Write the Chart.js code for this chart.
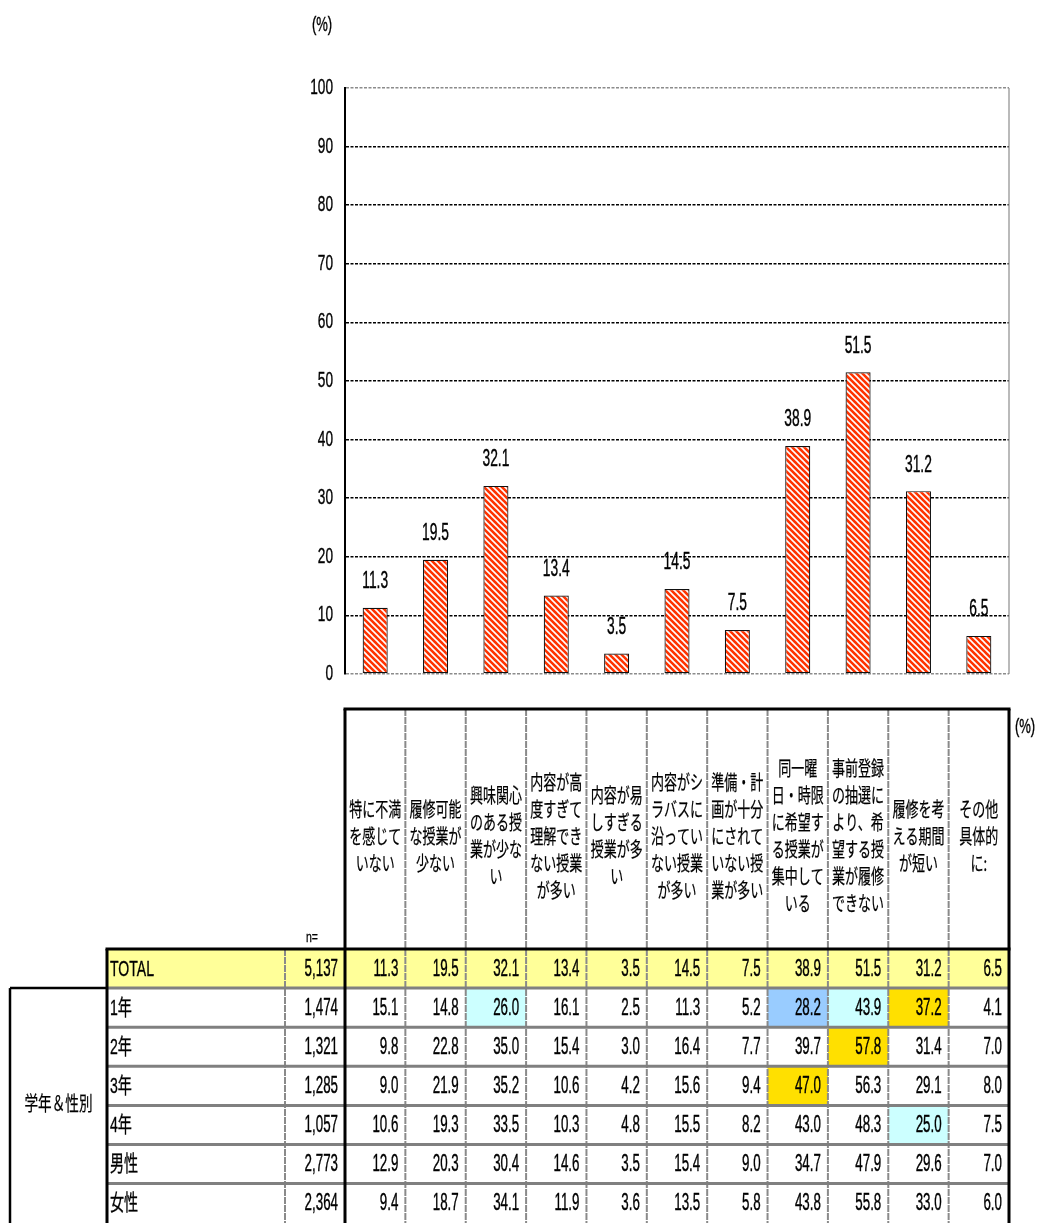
<!DOCTYPE html>
<html>
<head>
<meta charset="utf-8">
<script src="https://cdn.jsdelivr.net/npm/chart.js@4.4.1/dist/chart.umd.min.js"></script>
<style>
html, body { margin: 0; padding: 0; background: #fff; }
canvas { display: block; }
</style>
</head>
<body>
<canvas id="c" width="1037" height="1223"></canvas>
<script>
// header text of each column, one entry per line
var categories = [
    ['特に不満', 'を感じて', 'いない'],
    ['履修可能', 'な授業が', '少ない'],
    ['興味関心', 'のある授', '業が少な', 'い'],
    ['内容が高', '度すぎて', '理解でき', 'ない授業', 'が多い'],
    ['内容が易', 'しすぎる', '授業が多', 'い'],
    ['内容がシ', 'ラバスに', '沿ってい', 'ない授業', 'が多い'],
    ['準備・計', '画が十分', 'にされて', 'いない授', '業が多い'],
    ['同一曜', '日・時限', 'に希望す', 'る授業が', '集中して', 'いる'],
    ['事前登録', 'の抽選に', 'より、希', '望する授', '業が履修', 'できない'],
    ['履修を考', 'える期間', 'が短い'],
    ['その他', '具体的', 'に:']
];
var totalValues = [11.3, 19.5, 32.1, 13.4, 3.5, 14.5, 7.5, 38.9, 51.5, 31.2, 6.5];
var totalN = '5,137';

var rowLabels = ['1年', '2年', '3年', '4年', '男性', '女性'];
var rowN = ['1,474', '1,321', '1,285', '1,057', '2,773', '2,364'];
var year1 = [15.1, 14.8, 26.0, 16.1, 2.5, 11.3, 5.2, 28.2, 43.9, 37.2, 4.1];
var year2 = [9.8, 22.8, 35.0, 15.4, 3.0, 16.4, 7.7, 39.7, 57.8, 31.4, 7.0];
var year3 = [9.0, 21.9, 35.2, 10.6, 4.2, 15.6, 9.4, 47.0, 56.3, 29.1, 8.0];
var year4 = [10.6, 19.3, 33.5, 10.3, 4.8, 15.5, 8.2, 43.0, 48.3, 25.0, 7.5];
var male = [12.9, 20.3, 30.4, 14.6, 3.5, 15.4, 9.0, 34.7, 47.9, 29.6, 7.0];
var female = [9.4, 18.7, 34.1, 11.9, 3.6, 13.5, 5.8, 43.8, 55.8, 33.0, 6.0];
var rowValues = [year1, year2, year3, year4, male, female];

var groupLabel = '学年＆性別';
var yMax = 100;
var yStep = 10;

var NUM = "'Liberation Sans', 'Noto Sans CJK JP', Arial, sans-serif";
var JP = "'Noto Sans CJK JP', sans-serif";

// narrow text: scale horizontally around the anchor
function put(ctx, s, x, y, align, size, fam, sx, heavy) {
    ctx.save();
    ctx.font = size + 'px ' + fam;
    ctx.fillStyle = '#000';
    ctx.strokeStyle = '#000';
    ctx.textBaseline = 'middle';
    ctx.textAlign = align;
    ctx.translate(x, y);
    ctx.scale(sx, 1);
    ctx.fillText(s, 0, 0);
    if (heavy) {
        ctx.lineWidth = heavy;
        ctx.strokeText(s, 0, 0);
    }
    ctx.restore();
}

function line(ctx, x1, y1, x2, y2, color, w, dash) {
    ctx.save();
    ctx.strokeStyle = color;
    ctx.lineWidth = w;
    ctx.setLineDash(dash || []);
    ctx.beginPath();
    ctx.moveTo(x1, y1);
    ctx.lineTo(x2, y2);
    ctx.stroke();
    ctx.restore();
}

function cellColor(v, t) {
    var d = v - t;
    if (d <= -10) return '#99ccff';
    if (d <= -5) return '#ccffff';
    if (d >= 5) return '#ffe000';
    return null;
}

// red / white diagonal hatch
var tile = document.createElement('canvas');
tile.width = 6;
tile.height = 6;
var tctx = tile.getContext('2d');
tctx.fillStyle = '#ff3300';
tctx.fillRect(0, 0, 6, 6);
tctx.strokeStyle = '#ffffff';
tctx.lineWidth = 1.6;
for (var k = -1; k <= 1; k++) {
    tctx.beginPath();
    tctx.moveTo(k * 6 - 1, -1);
    tctx.lineTo(k * 6 + 7, 7);
    tctx.stroke();
}
var stripe = tctx.createPattern(tile, 'repeat');

var axisText = {
    id: 'axisText',
    afterDraw: function (chart) {
        var ctx = chart.ctx;
        var y = chart.scales.y;
        var a = chart.chartArea;
        y.ticks.forEach(function (t) {
            put(ctx, String(t.value), a.left - 12, y.getPixelForValue(t.value), 'right', 22, NUM, 0.62, 0.4);
        });
        put(ctx, '(%)', 322, 25, 'center', 21, NUM, 0.62, 0.4);
        // plot area border on the right
        line(ctx, a.right, a.top, a.right, a.bottom, '#8c8c8c', 1.2);
    }
};

var barLabels = {
    id: 'barLabels',
    afterDatasetsDraw: function (chart) {
        var ctx = chart.ctx;
        var meta = chart.getDatasetMeta(0);
        meta.data.forEach(function (bar, i) {
            put(ctx, totalValues[i].toFixed(1), bar.x, bar.y - 26, 'center', 23, NUM, 0.6, 0.4);
        });
    }
};

var table = {
    id: 'table',
    afterDraw: function (chart) {
        var ctx = chart.ctx;
        var xs = chart.scales.x;
        var a = chart.chartArea;
        var cw = xs.getPixelForValue(1) - xs.getPixelForValue(0);
        var colL = function (i) { return xs.getPixelForValue(i) - cw / 2; };
        var headTop = 709, headBot = 949, rh = 39.1;
        var labL = 107, nL = 285, grpL = 10;
        var rows = [totalValues].concat(rowValues);
        var bottom = chart.height;

        // fills
        ctx.fillStyle = '#ffff99';
        ctx.fillRect(labL, headBot, a.right - labL, rh);
        rowValues.forEach(function (vals, r) {
            var top = headBot + rh * (r + 1);
            vals.forEach(function (v, i) {
                var c = cellColor(v, totalValues[i]);
                if (c) {
                    ctx.fillStyle = c;
                    ctx.fillRect(colL(i), top, cw, rh);
                }
            });
        });

        // header column separators
        for (var i = 1; i < categories.length; i++) {
            line(ctx, colL(i), headTop, colL(i), headBot, '#8a8a8a', 2, [7, 1]);
        }
        // body column separators
        for (i = 1; i < categories.length; i++) {
            line(ctx, colL(i), headBot, colL(i), bottom, '#8a8a8a', 2, [7, 1]);
        }
        line(ctx, nL, headBot, nL, bottom, '#8a8a8a', 2, [7, 1]);
        // row separators
        for (var r = 1; r < rows.length; r++) {
            line(ctx, labL, headBot + rh * r, a.right, headBot + rh * r, '#808080', 3);
        }
        // heavy borders
        line(ctx, a.left - 1.5, headTop, a.right + 1.5, headTop, '#000', 3);
        line(ctx, a.left, headTop, a.left, bottom, '#000', 3);
        line(ctx, a.right, headTop, a.right, bottom, '#000', 3);
        line(ctx, labL - 1.5, headBot, a.right + 1.5, headBot, '#000', 3);
        line(ctx, labL, headBot, labL, bottom, '#000', 3);
        line(ctx, grpL, headBot + rh, labL, headBot + rh, '#000', 2.5);
        line(ctx, grpL, headBot + rh, grpL, bottom, '#000', 2.5);

        // header text
        categories.forEach(function (lines, i) {
            var cx = colL(i) + cw / 2;
            var lh = 27, cy = 836;
            var y0 = cy - (lines.length - 1) * lh / 2;
            lines.forEach(function (s, k) {
                put(ctx, s, cx, y0 + k * lh, 'center', 20, JP, 0.65, 0.25);
            });
        });
        put(ctx, 'n=', 312, 938, 'center', 15, NUM, 0.7, 0.3);
        put(ctx, '(%)', 1025, 727, 'center', 21, NUM, 0.62, 0.4);

        // body text
        var labels = ['TOTAL'].concat(rowLabels);
        var ns = [totalN].concat(rowN);
        rows.forEach(function (vals, r) {
            var cy = headBot + rh * r + rh / 2 + 1;
            put(ctx, labels[r], labL + 3, cy, 'left', 22, NUM, 0.64, 0.35);
            put(ctx, ns[r], a.left - 7, cy, 'right', 23, NUM, 0.58, 0.4);
            vals.forEach(function (v, i) {
                put(ctx, v.toFixed(1), colL(i) + cw - 7, cy, 'right', 23, NUM, 0.58, 0.4);
            });
        });
        put(ctx, groupLabel, (grpL + labL) / 2, headBot + rh * 4 - 2, 'center', 20, JP, 0.68, 0.25);
    }
};

var chart = new Chart(document.getElementById('c'), {
    type: 'bar',
    data: {
        labels: categories.map(function (c) { return c.join(''); }),
        datasets: [{
            data: totalValues,
            backgroundColor: stripe,
            borderColor: '#111',
            borderWidth: 1.2,
            borderSkipped: false,
            barPercentage: 0.415,
            categoryPercentage: 1
        }]
    },
    options: {
        responsive: false,
        animation: false,
        layout: {
            padding: { left: 285, right: 28, top: 88, bottom: 549 }
        },
        plugins: {
            legend: { display: false },
            tooltip: { enabled: false }
        },
        scales: {
            x: { display: false },
            y: {
                min: 0,
                max: yMax,
                afterFit: function (s) { s.width = 60; },
                ticks: { display: false, stepSize: yStep },
                grid: {
                    drawTicks: false,
                    lineWidth: 1.5,
                    color: function (c) {
                        return (c.tick.value === 0 || c.tick.value === yMax) ? '#8c8c8c' : '#000';
                    }
                },
                border: { color: '#000', width: 2, dash: [3, 1.5] }
            }
        }
    },
    plugins: [barLabels, axisText, table]
});
</script>
</body>
</html>
